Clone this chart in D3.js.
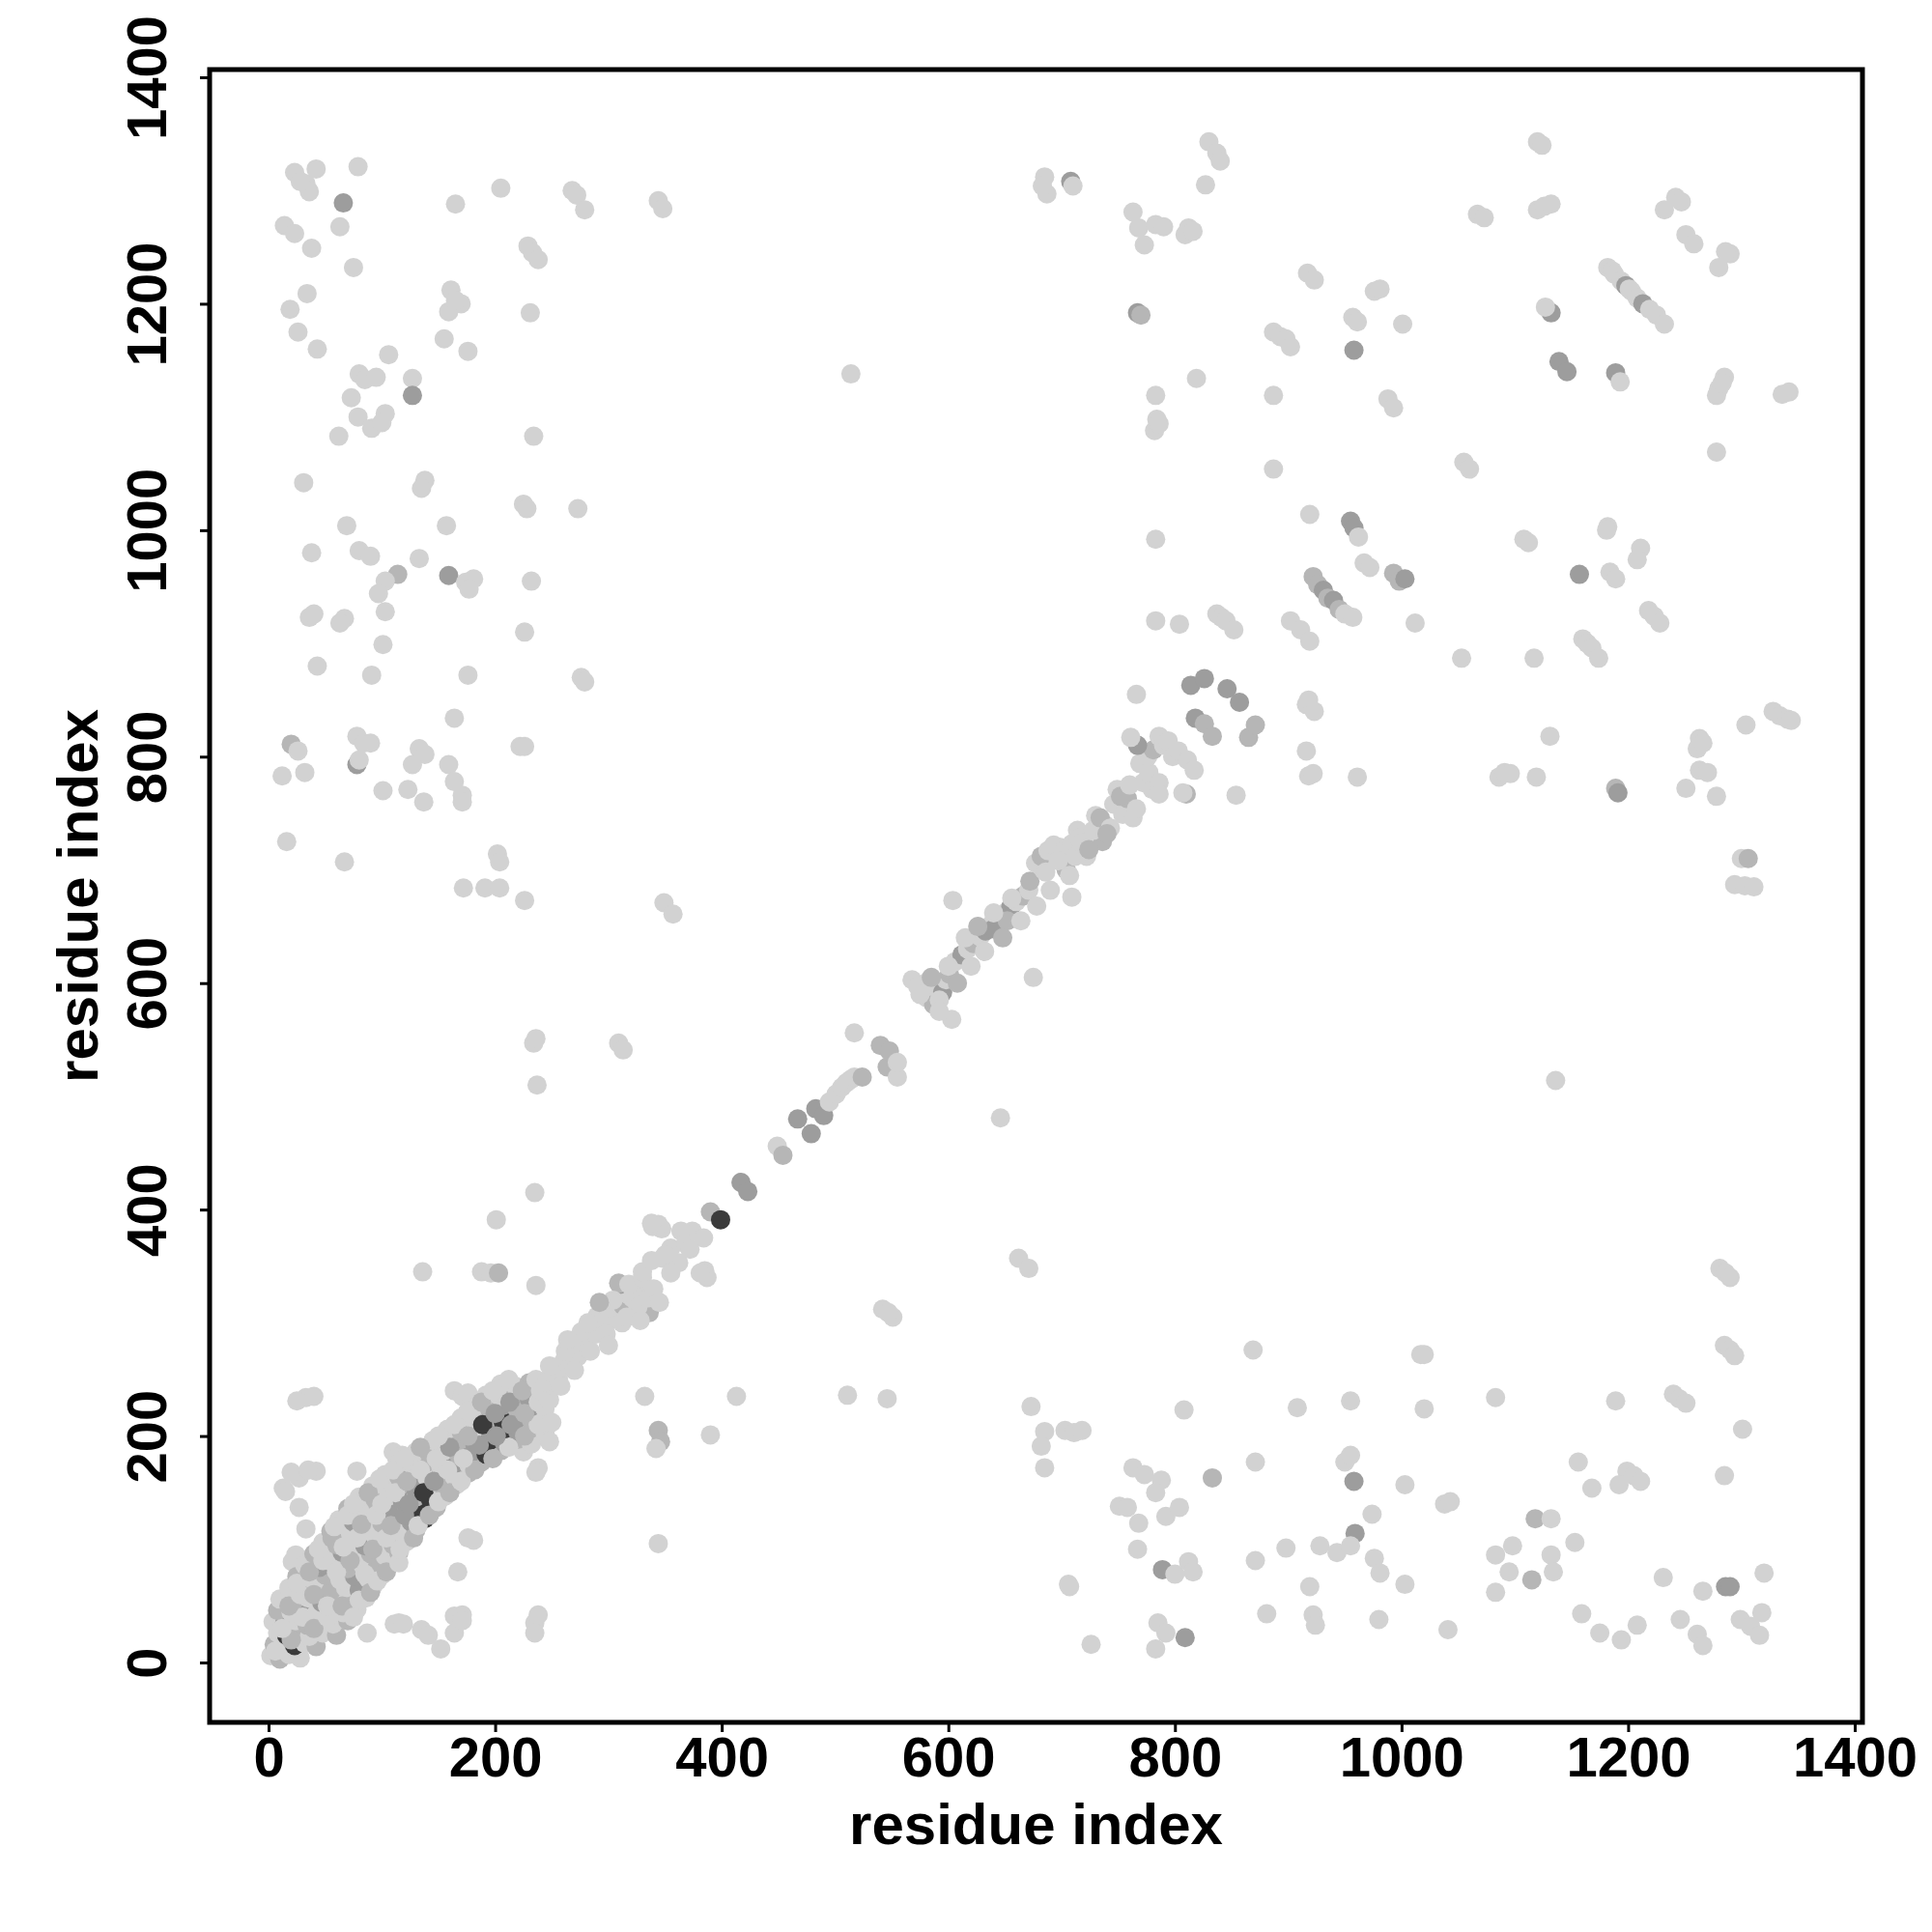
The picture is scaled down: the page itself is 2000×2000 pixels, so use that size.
<!DOCTYPE html>
<html>
<head>
<meta charset="utf-8">
<script src="https://cdn.jsdelivr.net/npm/d3@7"></script>
<style>
  html, body { margin: 0; padding: 0; background: #fff; }
  svg { display: block; }
</style>
</head>
<body>
<script>
// ---------------- data (residue i, residue j, shade level 0..3) ----------------
const tickValues = [0, 200, 400, 600, 800, 1000, 1200, 1400];
const xTitle = "residue index";
const yTitle = "residue index";
const shadeColors = ["#d2d2d2", "#b6b6b6", "#9d9d9d", "#3b3b3b"];

const coreBand = [
  [2,6,0],[10,3,1],[18,7,0],[28,4,0],
  [5,16,1],[14,13,0],[23,15,3],[32,17,0],[42,14,1],
  [8,26,0],[16,24,3],[26,27,1],[36,23,0],[48,26,0],[60,24,1],
  [4,36,0],[14,34,2],[24,37,0],[34,33,1],[45,36,0],[57,34,0],[70,37,1],
  [8,46,1],[20,44,0],[31,47,2],[42,43,0],[54,46,1],[66,44,0],[78,47,0],
  [10,56,0],[22,54,1],[35,57,0],[47,53,2],[60,56,0],[72,54,1],[86,57,0],
  [18,66,0],[30,64,2],[42,67,0],[55,63,1],[68,66,0],[80,64,2],[92,67,0],
  [25,76,1],[38,74,0],[50,77,1],[63,73,0],[76,76,2],[88,74,0],[100,77,0],
  [32,86,0],[45,84,2],[58,87,0],[70,83,1],[83,86,0],[96,84,1],[108,87,0],
  [40,96,1],[52,94,0],[65,97,2],[78,93,0],[90,96,1],[103,94,0],[115,97,1],
  [48,106,0],[60,104,1],[72,107,0],[85,103,2],[98,106,0],[110,104,1],[122,107,0],
  [55,116,1],[68,114,0],[80,117,1],[93,113,0],[106,116,2],[118,114,0],[130,117,1],
  [62,126,0],[75,124,2],[88,127,0],[100,123,1],[113,126,0],[126,124,2],[138,127,3],
  [70,136,1],[84,134,0],[97,137,1],[110,133,2],[122,136,0],[135,134,3],[148,137,1],
  [80,146,0],[94,144,1],[106,147,0],[118,143,2],[130,146,1],[143,144,3],[156,147,0],
  [92,156,0],[105,154,0],[117,157,1],[130,153,2],[142,156,0],[155,154,1],[166,157,0],
  [103,166,0],[115,164,1],[128,167,2],[140,163,0],[152,166,1],[164,164,0],[176,167,1],
  [115,176,0],[127,174,0],[140,177,1],[152,173,0],[165,176,2],[177,174,0],[188,177,1],
  [130,186,0],[142,184,1],[155,187,0],[168,183,1],[180,186,2],[192,184,3],[205,187,1],
  [145,196,0],[158,194,0],[170,197,1],[182,193,2],[195,196,3],[208,194,2],[220,197,1],[232,193,0],
  [158,206,0],[170,204,1],[183,207,0],[196,203,2],[208,206,3],[220,204,2],[232,207,1],[244,203,0],
  [170,216,0],[182,214,0],[195,217,1],[207,213,3],[220,216,2],[232,214,1],[244,217,0],
  [182,226,0],[195,224,1],[207,227,2],[220,223,1],[232,226,2],[244,224,0],
  [192,236,0],[205,234,0],[218,237,1],[230,233,2],[242,236,0],
  [205,246,0],[218,244,0],[230,247,1],[242,243,0]
];

const coreBandFill = [
  [6,10,0],[20,20,1],[12,30,0],[30,40,0],[40,30,1],[52,40,0],[18,50,1],[28,60,0],[40,60,1],[52,50,0],
  [65,50,1],[80,55,0],[75,40,0],[90,62,1],[25,70,0],[36,80,1],[48,90,0],[60,80,0],[72,90,1],[85,78,0],
  [96,72,0],[104,80,1],[115,88,0],[44,100,0],[56,110,1],[66,102,0],[78,110,0],[92,100,1],[104,110,0],
  [116,100,0],[128,110,1],[58,120,0],[70,130,0],[82,122,1],[95,130,0],[108,121,1],[120,130,2],[132,121,0],
  [142,130,1],[75,140,0],[88,150,1],[100,140,0],[112,150,0],[124,140,2],[137,150,3],[150,142,0],[160,150,1],
  [98,162,0],[110,170,0],[122,160,1],[134,170,0],[146,160,2],[158,170,0],[170,160,0],[182,170,1],[120,180,0],
  [134,190,1],[148,180,0],[160,190,2],[172,180,0],[186,192,2],[198,180,1],[212,190,0],[150,200,0],[164,210,0],
  [176,200,1],[189,210,3],[201,200,2],[214,210,2],[226,200,1],[238,210,0],[176,222,0],[188,230,1],[200,220,2],
  [213,230,2],[226,220,1],[238,230,0],[198,240,0],[212,250,0],[224,240,1],[236,250,0],[248,232,0],[250,212,0],
  [248,195,0]
];

const nearOrigin = [
  [13,154,0],[27,163,0],[42,169,0],[20,168,0],[35,170,0],[27,137,0],[15,151,0],[33,118,0],
  [21,89,0],[24,95,0],[33,234,0],[25,231,0],[40,235,0],[78,169,0],[110,186,0],[118,183,0],
  [113,181,0],[164,240,0],[171,235,0],[176,238,0],[238,172,0],[236,168,0],[225,186,0],
  [87,26,0],[115,35,0],[135,29,0],[141,24,0],[164,41,0],[164,26,0],[152,12,0],[167,80,0],
  [171,42,0],[171,37,0],[235,35,0],[235,26,0],[238,42,0],[111,34,0],[119,34,0],[181,108,0],[176,110,0]
];

const diagonalBand = [
  [240,240,0],[252,244,0],[245,248,0],[250,256,0],[256,250,0],[260,265,0],[266,262,0],[268,276,0],
  [273,270,0],[277,283,0],[281,286,0],[285,292,0],[289,290,0],[293,300,0],[297,305,0],[301,302,0],
  [305,312,0],[309,318,0],[313,315,1],[317,325,0],[321,322,0],[325,330,0],[310,334,2],[336,309,1],
  [309,335,1],[322,325,0],
  [248,262,0],[258,244,0],[262,275,0],[270,258,0],[276,292,0],[284,275,0],[290,306,0],[298,290,0],
  [304,320,0],[312,300,0],[318,334,0],[326,314,0],[330,340,0],[335,322,0],[300,280,0],[282,300,0],
  [264,285,0],[292,318,1],[316,305,0],[328,302,0],[340,330,0],[345,318,0],[330,345,0],
  [339,385,0],[347,383,0],[344,387,0],[338,388,0],[374,381,0],[384,375,0],[364,381,0],[355,366,0],
  [348,357,0],[362,353,0],[355,344,0],[338,355,0],[385,346,0],[387,340,0],[350,360,0],[368,370,0],
  [372,365,0],[381,344,0],[390,398,1],[399,391,3],
  [417,424,2],[423,416,2],[449,456,0],[454,448,1],[467,480,2],[479,467,2],[483,489,2],[490,483,2],
  [495,495,0],[501,502,0],[506,508,0],[510,512,0],[514,515,0],[517,517,0],[524,517,1],[517,556,0],
  [546,526,1],[540,545,1],[548,540,1],[555,517,0],[555,530,0],
  [568,603,0],[573,597,0],[581,587,0],[587,581,1],[590,597,0],[595,592,2],[598,603,0],[601,608,1],
  [603,568,0],[606,619,0],[612,625,2],[617,630,0],[622,635,1],[628,641,0],[633,646,2],[638,652,0],
  [644,657,1],[650,662,0],[655,667,2],[660,672,0],[666,677,1],[671,682,0],[604,673,0],[675,605,0],
  [646,481,0],[580,600,0],[592,585,0],[640,648,2],[652,655,1],
  [575,590,0],[585,605,1],[592,575,0],[600,615,0],[608,600,1],[615,640,0],[620,615,0],[626,650,1],
  [632,628,0],[640,662,0],[648,640,1],[656,675,0],[664,655,0],[672,690,1],[678,668,0],[684,700,0],
  [690,682,0],[698,720,0],[704,700,1],[714,735,0],[722,712,0],[730,748,0],[736,725,1],
  [677,706,0],[682,712,1],[688,717,0],[693,722,0],[702,717,0],[709,723,0],[715,728,0],[720,730,0],
  [709,676,0],[707,695,0],[712,712,0],[718,724,0],[724,718,1],[686,698,0],[697,708,0],
  [728,735,0],[738,740,0],[734,746,1],[743,737,0],[740,732,1],[746,758,0],[749,771,0],[754,749,0],
  [758,763,1],[763,746,0],[766,754,0],[752,765,1],[760,775,0],[769,794,0],[772,777,0],[777,786,0],
  [780,771,0],[786,777,0],[776,800,0],[781,806,1],[786,818,0],[790,810,0],[794,814,0],[798,800,0],
  [803,805,0],[811,797,0],[817,788,0],[767,810,2],[761,817,0],[766,855,0],[810,767,1],[854,766,0],
  [807,768,0],[786,767,0],[814,863,2],[826,869,2],[846,860,2],[857,848,2],[818,834,2],[826,829,1],
  [833,818,1],[865,817,1],[871,828,1]
];

const upperLeft = [
  [23,1316,0],[33,1306,0],[42,1319,0],[36,1299,0],[28,1308,0],[79,1321,0],[66,1289,2],[14,1269,0],
  [23,1262,0],[63,1268,0],[38,1249,0],[75,1232,0],[34,1209,0],[19,1195,0],[26,1175,0],[43,1160,0],
  [165,1288,0],[205,1302,0],[268,1300,0],[272,1296,0],[279,1283,0],[344,1291,0],[348,1284,0],
  [229,1251,0],[233,1245,0],[238,1239,0],[161,1212,0],[170,1200,0],[159,1193,0],[165,1203,0],
  [231,1192,0],[155,1169,0],[176,1158,0],[106,1155,0],[80,1138,0],[85,1133,0],[95,1135,0],
  [127,1134,0],[127,1119,2],[73,1117,0],[79,1100,0],[91,1090,0],[103,1103,0],[100,1095,0],
  [62,1083,0],[234,1083,0],[31,1042,0],[138,1044,0],[135,1037,0],[225,1023,0],[228,1019,0],
  [273,1019,0],[69,1004,0],[157,1004,0],[38,980,0],[80,982,0],[90,977,0],[133,975,0],[114,961,1],
  [159,960,2],[174,954,0],[181,957,0],[177,948,0],[103,955,0],[97,944,0],[232,955,0],[36,923,0],
  [40,926,0],[67,922,0],[63,918,0],[103,928,0],[226,910,0],[101,899,0],[43,880,0],[91,872,0],
  [176,872,0],[276,870,0],[279,866,0],[164,834,0],[20,811,1],[26,805,0],[12,783,0],[32,786,0],
  [78,818,0],[84,812,0],[90,812,0],[78,793,2],[80,797,0],[133,807,0],[138,802,0],[127,793,0],
  [159,793,0],[164,778,0],[101,770,0],[123,771,0],[137,760,0],[171,766,0],[171,760,0],[222,809,0],
  [226,809,0],[16,725,0],[67,707,0],[202,714,0],[204,707,0],[172,684,0],[191,684,0],[204,684,0],
  [226,673,0]
];

const midScatter = [
  [349,671,0],[357,661,0],[234,547,0],[236,551,0],[309,547,0],[313,541,0],[237,510,0],[235,415,0],
  [201,391,0],[136,345,0],[188,345,0],[196,344,0],[203,344,1],[236,333,0],[332,235,0],[413,235,0],
  [511,236,0],[546,233,0],[344,205,1],[346,195,1],[342,189,0],[390,201,0],[344,105,0],[662,357,0],
  [671,348,0],[542,312,0],[551,305,0],[547,309,0],[1136,514,0],[514,1138,0]
];

const upperRight = [
  [685,1312,0],[687,1297,0],[683,1304,0],[708,1308,2],[710,1304,0],[830,1343,0],[837,1333,0],[840,1326,0],
  [827,1305,0],[763,1281,0],[768,1267,0],[783,1270,0],[773,1252,0],[790,1268,0],[812,1267,0],[809,1261,0],
  [816,1264,0],[917,1227,0],[923,1221,0],[976,1211,0],[981,1213,0],[767,1192,2],[770,1190,1],[957,1188,0],
  [961,1184,0],[1001,1182,0],[887,1175,0],[893,1171,0],[898,1169,0],[902,1162,0],[958,1159,2],[819,1134,0],
  [783,1119,0],[887,1119,0],[988,1116,0],[993,1108,0],[784,1098,0],[782,1088,0],[786,1094,0],[887,1054,0],
  [1055,1060,0],[1060,1054,0],
  [1120,1343,0],[1124,1340,0],[1120,1283,0],[1126,1286,0],[1132,1288,0],[1067,1279,0],[1073,1276,0],
  [1242,1294,0],[1247,1290,0],[1232,1283,0],[1251,1261,0],[1258,1253,0],[1290,1244,0],[1286,1246,0],
  [1280,1232,0],
  [1182,1232,0],[1186,1229,0],[1188,1226,0],[1194,1220,0],[1198,1216,2],[1201,1213,0],[1203,1211,0],
  [1208,1205,0],[1213,1200,2],[1219,1195,0],[1225,1190,0],[1232,1182,0],
  [1132,1192,2],[1127,1197,0],[1139,1149,2],[1146,1140,2],[1189,1139,2],[1193,1131,0],[1285,1135,0],
  [1280,1125,0],[1278,1119,0],[1283,1130,0],[1342,1122,0],[1336,1120,0],[1278,1069,0],
  [919,1014,0],[955,1008,2],[958,1002,2],[962,994,0],[783,992,0],[1108,992,0],[1112,989,0],[1182,1003,0],
  [967,971,0],[972,967,0],[993,962,1],[998,955,1],[1003,957,2],[1157,961,2],[1184,963,0],[1189,957,0],
  [1211,984,0],[1208,974,0],[922,959,1],[926,952,1],[931,947,2],[935,940,1],[940,938,2],[945,930,1],
  [950,926,0],[957,923,0],
  [783,920,0],[804,917,0],[837,926,0],[841,923,0],[845,920,0],[852,912,0],[902,920,0],[911,912,0],
  [919,902,0],[1012,918,0],[1053,887,0],[1117,887,0],[1160,904,0],[1164,900,0],[1168,896,0],[1174,887,0],
  [1218,929,0],[1223,924,0],[1228,918,0],[1181,1000,0],
  [916,846,0],[918,850,0],[923,840,0],[916,805,0],[918,783,0],[922,785,0],[961,782,0],[1086,782,0],
  [1091,786,0],[1096,785,0],[1119,782,0],[1131,818,0],[1189,772,1],[1191,768,2],[1263,816,0],[1261,807,0],
  [1266,812,0],[1251,772,0],[1263,788,0],[1270,786,0],[1278,765,0],[1304,828,0],[1328,840,0],[1334,836,0],
  [1341,833,0],[1344,832,0],[1300,710,0],[1306,710,1],[1294,687,0],[1303,686,0],[1311,685,0]
];

const lowerRight = [
  [1281,348,0],[1286,344,0],[1290,340,0],[869,276,0],[1017,272,0],[1020,272,0],[1285,280,0],[1290,276,0],
  [1294,271,0],[673,226,0],[808,223,0],[908,225,0],[955,231,0],[1020,224,0],[1083,234,0],[1189,231,0],
  [1240,237,0],[1245,233,0],[1251,229,0],[1301,206,0],[685,204,0],[682,191,0],[703,205,0],[711,203,0],
  [718,205,0],[685,172,0],[763,172,0],[773,166,0],[788,161,0],[783,150,0],[833,163,1],[871,177,0],
  [950,177,0],[955,183,0],[958,160,2],[1003,157,0],[1038,140,0],[1043,142,0],[1156,177,0],[1168,154,0],
  [1199,169,0],[1205,165,0],[1211,160,0],[1192,157,0],[1285,165,0],[751,138,0],[758,137,0],[768,123,0],
  [792,129,0],[804,137,0],[974,131,0],[959,114,2],[1118,127,1],[1132,127,0],[767,100,0],[789,82,2],
  [800,78,0],[812,89,0],[816,80,0],[706,69,0],[871,90,0],[898,101,0],[928,103,0],[943,97,0],
  [955,103,0],[976,92,0],[981,79,0],[919,67,0],[1003,69,0],[1083,95,0],[1098,103,0],[1095,80,0],
  [1115,73,1],[1132,95,0],[1134,80,0],[1153,106,0],[1083,62,0],[1231,75,0],[1266,63,0],[1286,67,2],
  [1290,67,2],[1320,79,0],[881,43,0],[922,42,0],[924,33,0],[980,38,0],[1041,29,0],[785,35,0],
  [792,26,0],[809,22,2],[726,16,0],[783,12,0],[1159,43,0],[1175,26,0],[1194,20,0],[1208,33,0],
  [1246,38,0],[1261,25,0],[1266,15,0],[1299,38,0],[1308,32,0],[1316,24,0],[1318,44,0],[707,67,0]
];

// ---------------- layout ----------------
const W = 2000, H = 2000;
const box = { left: 217, right: 1928, top: 72, bottom: 1783 };
const font = "'Liberation Sans', Arial, Helvetica, sans-serif";

const x = d3.scaleLinear().domain([0, 1400]).range([278, 1920]);
const y = d3.scaleLinear().domain([0, 1400]).range([1721, 80]);
const shade = d3.scaleOrdinal().domain([0, 1, 2, 3]).range(shadeColors);

const svg = d3.select("body").append("svg")
  .attr("width", W).attr("height", H)
  .attr("viewBox", `0 0 ${W} ${H}`);

svg.append("rect").attr("width", W).attr("height", H).attr("fill", "#fff");

const allPoints = [].concat(upperLeft, midScatter, upperRight, lowerRight, nearOrigin, coreBand, coreBandFill, diagonalBand);

svg.append("g").selectAll("circle")
  .data(allPoints)
  .join("circle")
  .attr("cx", d => x(d[0]))
  .attr("cy", d => y(d[1]))
  .attr("r", 10)
  .attr("fill", d => shade(d[2]));

// x axis
const gx = svg.append("g")
  .attr("transform", `translate(0,${box.bottom})`)
  .call(d3.axisBottom(x).tickValues(tickValues).tickFormat(d3.format("d")).tickSize(10).tickPadding(5));
gx.select(".domain").remove();
gx.selectAll(".tick line").attr("stroke", "#000").attr("stroke-width", 3);
gx.selectAll(".tick text")
  .attr("fill", "#000")
  .style("font-family", font).style("font-weight", "bold").style("font-size", "58px");

// y axis
const gy = svg.append("g")
  .attr("transform", `translate(${box.left},0)`)
  .call(d3.axisLeft(y).tickValues(tickValues).tickFormat(d3.format("d")).tickSize(10));
gy.select(".domain").remove();
gy.selectAll(".tick line").attr("stroke", "#000").attr("stroke-width", 3);
gy.selectAll(".tick text")
  .attr("x", null).attr("dy", null)
  .attr("text-anchor", "middle")
  .attr("transform", "translate(-45,0) rotate(-90)")
  .attr("fill", "#000")
  .style("font-family", font).style("font-weight", "bold").style("font-size", "58px");

// frame
svg.append("rect")
  .attr("x", box.left).attr("y", box.top)
  .attr("width", box.right - box.left).attr("height", box.bottom - box.top)
  .attr("fill", "none").attr("stroke", "#000").attr("stroke-width", 5);

// titles
svg.append("text")
  .attr("x", (box.left + box.right) / 2).attr("y", 1909)
  .attr("text-anchor", "middle")
  .style("font-family", font).style("font-weight", "bold").style("font-size", "60px")
  .text(xTitle);

svg.append("text")
  .attr("transform", `translate(101,${(box.top + box.bottom) / 2}) rotate(-90)`)
  .attr("text-anchor", "middle")
  .style("font-family", font).style("font-weight", "bold").style("font-size", "60px")
  .text(yTitle);
</script>
</body>
</html>
